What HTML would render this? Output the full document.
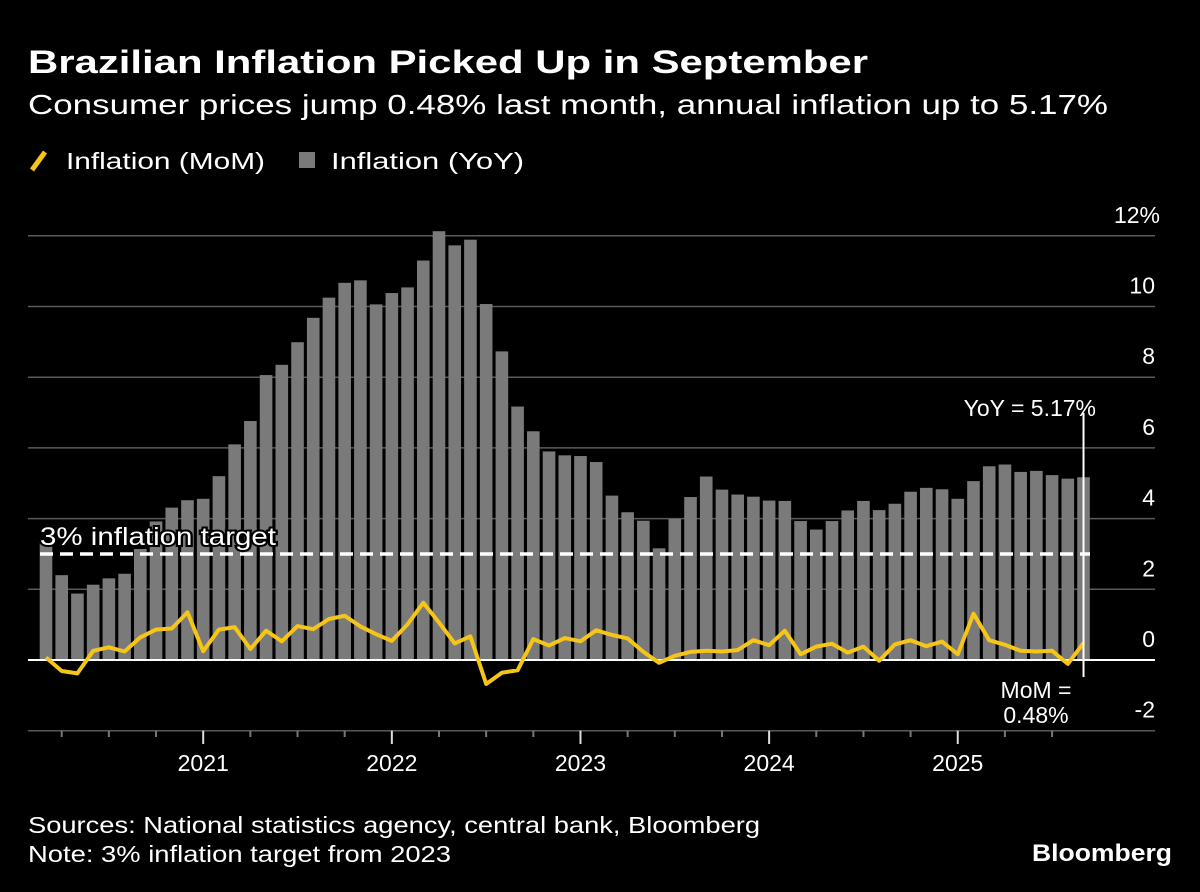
<!DOCTYPE html>
<html><head><meta charset="utf-8"><style>
html,body{margin:0;padding:0;background:#000;}
svg{display:block;font-family:"Liberation Sans","DejaVu Sans",sans-serif;}
</style></head><body>
<svg id="chart" width="1200" height="892" viewBox="0 0 1200 892">
<rect width="1200" height="892" fill="#000"/>
<text x="28" y="73" fill="#fff" font-size="32" font-weight="bold" textLength="840" lengthAdjust="spacingAndGlyphs">Brazilian Inflation Picked Up in September</text>
<text x="28" y="114" fill="#fff" font-size="28" textLength="1080" lengthAdjust="spacingAndGlyphs">Consumer prices jump 0.48% last month, annual inflation up to 5.17%</text>
<g>
<line x1="32" y1="170" x2="45" y2="152" stroke="#f5c518" stroke-width="5"/>
<text x="66" y="169" fill="#fff" font-size="23" textLength="199" lengthAdjust="spacingAndGlyphs">Inflation (MoM)</text>
<rect x="299" y="152" width="16" height="16" fill="#7a7a7a"/>
<text x="331" y="169" fill="#fff" font-size="23" textLength="193" lengthAdjust="spacingAndGlyphs">Inflation (YoY)</text>
</g>
<g id="grid"></g>
<g id="bars"></g>
<g id="overlay"></g>
<text x="28" y="833" fill="#fff" font-size="23" textLength="732" lengthAdjust="spacingAndGlyphs">Sources: National statistics agency, central bank, Bloomberg</text>
<text x="28" y="862" fill="#fff" font-size="23" textLength="423" lengthAdjust="spacingAndGlyphs">Note: 3% inflation target from 2023</text>
<text x="1172" y="861" fill="#fff" font-size="24" font-weight="bold" text-anchor="end" textLength="140" lengthAdjust="spacingAndGlyphs">Bloomberg</text>
</svg>
<script>
const yoy = [3.30,2.40,1.88,2.13,2.31,2.44,3.14,3.92,4.31,4.52,
4.56,5.20,6.10,6.76,8.06,8.35,8.99,9.68,10.25,10.67,10.74,10.06,
10.38,10.54,11.30,12.13,11.73,11.89,10.07,8.73,7.17,6.47,5.90,5.79,
5.77,5.60,4.65,4.18,3.94,3.16,3.99,4.61,5.19,4.82,4.68,4.62,
4.51,4.50,3.93,3.69,3.93,4.23,4.50,4.24,4.42,4.76,4.87,4.83,
4.56,5.06,5.48,5.53,5.32,5.35,5.23,5.13,5.17];
const mom = [0.07,-0.31,-0.38,0.26,0.36,0.24,0.64,0.86,0.89,1.35,
0.25,0.86,0.93,0.31,0.83,0.53,0.96,0.87,1.16,1.25,0.95,0.73,
0.54,1.01,1.62,1.06,0.47,0.67,-0.68,-0.36,-0.29,0.59,0.41,0.62,
0.53,0.84,0.71,0.61,0.23,-0.08,0.12,0.23,0.26,0.24,0.28,0.56,
0.42,0.83,0.16,0.38,0.46,0.21,0.38,-0.02,0.44,0.56,0.39,0.52,
0.16,1.31,0.56,0.43,0.26,0.24,0.26,-0.11,0.48];
const yTicks = [-2,0,2,4,6,8,10,12];
const yTickLabels = ["-2","0","2","4","6","8","10","12%"];
const years = ["2021","2022","2023","2024","2025"];
const yearStartIndex = [10,22,34,46,58];
const target = 3;
const latestYoY = "5.17%";
const latestMoM = "0.48%";

const NS="http://www.w3.org/2000/svg";
const x = i => 46 + i*15.72;
const y = v => 660 - v*35.35;
function mk(tag, attrs, parent){const e=document.createElementNS(NS,tag);for(const k in attrs)e.setAttribute(k,attrs[k]);parent.appendChild(e);return e;}
const grid=document.getElementById('grid'), bars=document.getElementById('bars'), ov=document.getElementById('overlay');

yTicks.forEach((t,k)=>{
  if(t!==0){const l=mk('line',{x1:28,x2:1155,y1:y(t),y2:y(t),stroke:'#5a5a5a','stroke-width':1.5},grid);
  
  }
  const tx=mk('text',{x:t===12?1160:1155,y:y(t)-13,fill:'#fff','font-size':23,'text-anchor':'end'},grid);
  tx.textContent=yTickLabels[k];
  
  
});
for(let i=1;i<yoy.length;i+=3){
  const isYear=yearStartIndex.includes(i);
  const tk=mk('line',{x1:x(i),x2:x(i),y1:y(-2),y2:isYear?744:737,stroke:isYear?'#ddd':'#777','stroke-width':2},grid);
  
  
}
years.forEach((yr,k)=>{
  const tx=mk('text',{x:x(yearStartIndex[k]),y:771,fill:'#fff','font-size':23,'text-anchor':'middle'},grid);
  tx.textContent=yr;
  
  
});

yoy.forEach((v,i)=>{
  const r=mk('rect',{x:x(i)-6.3,y:y(v),width:12.6,height:y(0)-y(v),fill:'#7a7a7a'},bars);
  
  
});

const zl=mk('line',{x1:28,x2:1155,y1:y(0),y2:y(0),stroke:'#fff','stroke-width':2},ov);


const tl=mk('line',{x1:40,x2:1090,y1:y(target),y2:y(target),stroke:'#fff','stroke-width':3.5,'stroke-dasharray':'13 7'},ov);


const tt=mk('text',{x:40,y:y(target)-9,fill:'#fff','font-size':25,stroke:'#000','stroke-width':4,'paint-order':'stroke',textLength:236,lengthAdjust:'spacingAndGlyphs'},ov);
tt.textContent=target+'% inflation target';



const pts=mom.map((v,i)=>x(i).toFixed(1)+','+y(v).toFixed(1)).join(' ');
const pl=mk('polyline',{points:pts,fill:'none',stroke:'#f5c518','stroke-width':4,'stroke-linejoin':'round'},ov);



const li=yoy.length-1;
const ml=mk('line',{x1:x(li),x2:x(li),y1:413,y2:677,stroke:'#fff','stroke-width':2},ov);


const a1=mk('text',{x:1096,y:416,fill:'#fff','font-size':23,'text-anchor':'end'},ov);
a1.textContent='YoY = '+latestYoY;


const a2=mk('text',{x:1036,y:698,fill:'#fff','font-size':23,'text-anchor':'middle'},ov);
a2.textContent='MoM =';


const a3=mk('text',{x:1036,y:723,fill:'#fff','font-size':23,'text-anchor':'middle'},ov);
a3.textContent=latestMoM;


</script>
</body></html>
